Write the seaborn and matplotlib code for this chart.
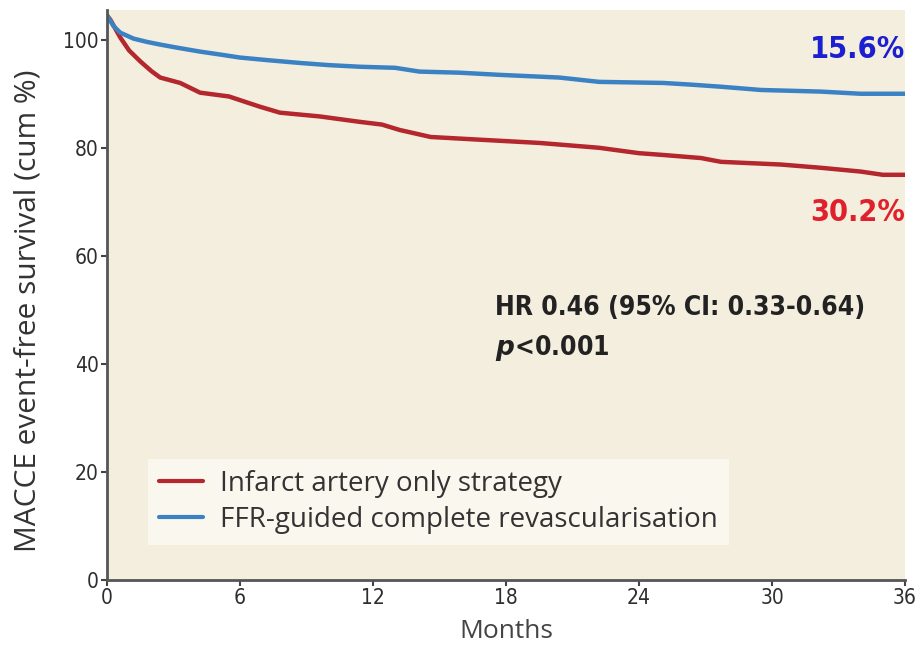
import numpy as np
import pandas as pd
import matplotlib
matplotlib.use("Agg")
import matplotlib.pyplot as plt
import seaborn as sns

# Event-free survival (months, %)
infarct_months = [0, 0.15, 0.6, 1.0, 1.5, 2.0, 2.4, 3.3, 4.2, 5.5, 6.9, 7.8, 9.6,
                  11.4, 12.4, 13.2, 14.6, 16.8, 19.5, 22.2, 24.0, 25.0, 26.8,
                  27.7, 30.4, 32.2, 34.0, 35.0, 36.0]
infarct_surv = [104.5, 103.7, 100.4, 98.0, 96.0, 94.2, 93.0, 92.0, 90.2, 89.5,
                87.6, 86.5, 85.8, 84.8, 84.3, 83.3, 82.0, 81.5, 80.9, 80.0, 79.0,
                78.7, 78.1, 77.4, 76.9, 76.3, 75.6, 75.0, 75.0]

ffr_months = [0, 0.3, 0.6, 1.2, 1.8, 2.4, 3.2, 4.2, 5.2, 6.0, 7.3, 8.7, 10.0,
              11.4, 13.0, 14.1, 15.9, 17.7, 20.4, 22.2, 25.1, 26.3, 27.7, 29.5,
              32.2, 34.0, 36.0]
ffr_surv = [104.5, 102.5, 101.3, 100.2, 99.6, 99.1, 98.5, 97.8, 97.2, 96.7, 96.2,
            95.7, 95.3, 95.0, 94.8, 94.1, 93.9, 93.5, 93.0, 92.2, 92.0, 91.7, 91.3,
            90.7, 90.4, 90.0, 90.0]

series_names = ["Infarct artery only strategy", "FFR-guided complete revascularisation"]
series_colors = ["#b3272d", "#3a82c4"]

x_ticks = [0, 6, 12, 18, 24, 30, 36]
y_ticks = [0, 20, 40, 60, 80, 100]

event_labels = ["30.2%", "15.6%"]
hr_text = "HR 0.46 (95% CI: 0.33-0.64)"

df = pd.concat([
    pd.DataFrame({"Months": infarct_months, "Survival": infarct_surv, "Strategy": series_names[0]}),
    pd.DataFrame({"Months": ffr_months, "Survival": ffr_surv, "Strategy": series_names[1]}),
], ignore_index=True)

sns.set_style("ticks")
plt.rcParams["font.family"] = ["Open Sans", "DejaVu Sans"]

fig = plt.figure(figsize=(9.2, 6.54), dpi=100)
ax = fig.add_axes([0.1163, 0.1131, 0.8674, 0.8716])
ax.set_facecolor("#f4eedf")

sns.lineplot(data=df, x="Months", y="Survival", hue="Strategy",
             hue_order=series_names, palette=series_colors,
             estimator=None, sort=True, linewidth=3.2, ax=ax)

ax.set_xlim(0, 36)
ax.set_ylim(0, 105.5)
ax.set_xticks(x_ticks)
ax.set_yticks(y_ticks)

narrow = dict(family="DejaVu Sans", stretch="condensed")
for lab in ax.get_xticklabels() + ax.get_yticklabels():
    lab.set_family("DejaVu Sans")
    lab.set_stretch("condensed")
    lab.set_fontsize(15)
    lab.set_color("#2e2e2e")

ax.tick_params(axis="both", length=4, width=1.5, color="#444444", pad=2)
for side in ["top", "right"]:
    ax.spines[side].set_visible(False)
for side in ["left", "bottom"]:
    ax.spines[side].set_linewidth(2)
    ax.spines[side].set_color("#555555")

ax.set_xlabel("Months", fontsize=19, color="#444444", labelpad=8)
ax.set_ylabel("MACCE event-free survival (cum %)", fontsize=21.5, color="#333333")
ax.yaxis.set_label_coords(-0.081, 0.472)

leg = ax.legend(loc="lower left", bbox_to_anchor=(0.051, 0.061), frameon=True,
                fancybox=False, fontsize=20, handlelength=1.6, handletextpad=0.6,
                borderpad=0.4, labelspacing=0.3, borderaxespad=0)
leg.get_frame().set_facecolor("#faf7ef")
leg.get_frame().set_edgecolor("none")
leg.get_frame().set_alpha(1)
for t in leg.get_texts():
    t.set_color("#333333")
for h in leg.get_lines():
    h.set_linewidth(3)

ax.text(36, 98.1, event_labels[1], ha="right", va="center", fontsize=22,
        fontweight="bold", color="#1c1fd0", **narrow)
ax.text(36, 68.1, event_labels[0], ha="right", va="center", fontsize=22,
        fontweight="bold", color="#e0202a", **narrow)

ax.text(17.5, 50.3, hr_text, ha="left", va="center", fontsize=19,
        fontweight="bold", color="#222222", **narrow)
ax.text(17.5, 43.0, r"$\bfit{p}$<0.001", ha="left", va="center", fontsize=19,
        fontweight="bold", color="#222222", **narrow)

fig.savefig("out.png", dpi=100, facecolor="white")
